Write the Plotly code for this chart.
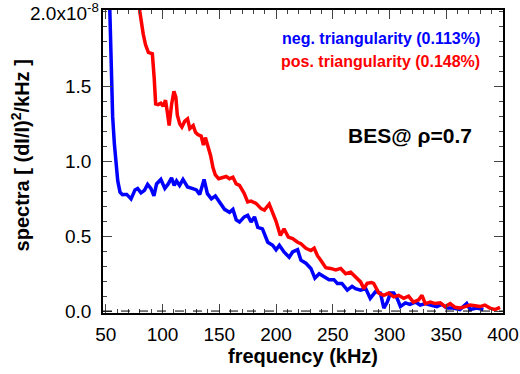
import plotly.graph_objects as go

# frequency (kHz) and spectra (units of 1e-8 (dI/I)^2/kHz)
neg_freq = [52.5, 54, 55, 56, 57.5, 59, 60.5, 62.5, 64.6, 66.5, 68.4, 70.3, 72.2, 74, 75.7, 78, 81, 84,
            86.8, 89.7, 92.4, 94.7, 98.5, 102, 105, 107.9, 110.2, 112.3, 115, 118, 122, 126, 129.8,
            132.7, 136.6, 139.5, 143, 146.5, 150.3, 154.6, 159, 162, 164.9, 167.8, 172, 175, 178,
            181, 183.9, 188, 192.7, 197, 200, 202.9, 207, 211.6, 214.6, 219, 221.9, 226.3, 230.7,
            234.2, 238, 242.3, 246.7, 251, 254, 258, 262.8, 267, 270, 274.5, 279, 283, 287.7, 292,
            295, 298, 300.8, 303.7, 306.7, 309.6, 314, 318, 322.8, 327, 331.5, 336, 341.7, 346,
            350.5, 356, 362, 368, 371, 377, 382.7]
neg_spec = [2.3, 1.85, 1.55, 1.3, 1.12, 1.0, 0.87, 0.795, 0.778, 0.78, 0.78, 0.765, 0.75, 0.78, 0.81,
            0.82, 0.79, 0.807, 0.847, 0.82, 0.77, 0.85, 0.88, 0.82, 0.85, 0.89, 0.84, 0.87, 0.84,
            0.88, 0.83, 0.82, 0.81, 0.78, 0.88, 0.785, 0.75, 0.77, 0.73, 0.68, 0.66, 0.68, 0.61,
            0.595, 0.63, 0.64, 0.595, 0.63, 0.56, 0.55, 0.46, 0.44, 0.41, 0.44, 0.395, 0.36, 0.395,
            0.41, 0.34, 0.32, 0.285, 0.22, 0.25, 0.23, 0.21, 0.21, 0.185, 0.185, 0.14, 0.165, 0.15,
            0.14, 0.15, 0.085, 0.13, 0.12, 0.02, 0.06, 0.12, 0.12, 0.085, 0.03, 0.055, 0.045, 0.06,
            0.04, 0.05, 0.04, 0.03, 0.045, 0.02, 0.02, 0.01, 0.05, 0.01, 0.02, 0.01]

pos_freq = [79, 80, 83, 85, 87.5, 91, 92.6, 93.9, 96, 98.5, 100.5, 102.6, 104.4, 105.8, 108, 110,
            111.7, 113, 115.2, 117, 119.6, 122, 124, 127, 129, 131, 134, 136, 137.7, 140, 142.3,
            144.4, 146.5, 149.4, 153, 156, 159, 162, 164.9, 167.8, 172, 175, 178, 182.4, 186.8,
            189.7, 194, 197, 200, 203.8, 207, 210.8, 214.6, 219, 221.9, 226.3, 230.7, 233.6, 236.5,
            239.4, 243.8, 248, 252.6, 257, 261.4, 265.8, 270, 274.5, 277.4, 280.3, 284, 286, 290.6,
            295, 299.3, 303.7, 308, 312.5, 316.8, 321, 325.7, 328.6, 331.5, 336, 340.3, 344.7, 349,
            353.5, 357.8, 362, 366.6, 371, 375.4, 379.8, 384, 388.5, 393, 397.4]
pos_spec = [2.1, 2.0, 1.85, 1.78, 1.73, 1.72, 1.56, 1.385, 1.38, 1.39, 1.37, 1.41, 1.32, 1.24, 1.385,
            1.47, 1.43, 1.31, 1.25, 1.23, 1.27, 1.285, 1.22, 1.24, 1.195, 1.18, 1.17, 1.11, 1.16,
            1.1, 1.04, 0.96, 0.91, 0.885, 0.895, 0.9, 0.885, 0.895, 0.85, 0.84, 0.785, 0.73, 0.735,
            0.72, 0.685, 0.675, 0.715, 0.66, 0.6, 0.505, 0.55, 0.495, 0.485, 0.46, 0.45, 0.42, 0.405,
            0.42, 0.37, 0.34, 0.29, 0.285, 0.275, 0.285, 0.25, 0.26, 0.23, 0.195, 0.15, 0.185, 0.19,
            0.185, 0.12, 0.105, 0.12, 0.095, 0.105, 0.085, 0.1, 0.06, 0.075, 0.105, 0.05, 0.06, 0.05,
            0.055, 0.03, 0.05, 0.025, 0.02, 0.03, 0.04, 0.035, 0.03, 0.04, 0.02, 0.01, 0.025]

x_ticks = [50, 100, 150, 200, 250, 300, 350, 400]
y_ticks = [0.0, 0.5, 1.0, 1.5]
y_ticktext = ["0.0", "0.5", "1.0", "1.5"]
y_top_label = "2.0x10<sup>-8</sup>"

FONT = "Liberation Sans, Arial, Helvetica, sans-serif"

fig = go.Figure()
fig.add_trace(go.Scatter(x=neg_freq, y=neg_spec, mode="lines",
                         line=dict(color="#0000ff", width=3.5), showlegend=False))
fig.add_trace(go.Scatter(x=pos_freq, y=pos_spec, mode="lines",
                         line=dict(color="#ff0000", width=3.5), showlegend=False))

fig.add_shape(type="line", xref="paper", x0=0, x1=1, yref="y", y0=0, y1=0,
              line=dict(color="black", width=1, dash="dash"))

fig.update_layout(
    width=520, height=374,
    margin=dict(l=103, r=17, t=10, b=61, autoexpand=False),
    paper_bgcolor="white", plot_bgcolor="white",
    font=dict(family=FONT, size=19, color="black"),
    xaxis=dict(range=[47.5, 400], tickvals=x_ticks, ticks="inside", ticklen=9, tickwidth=1,
               showline=True, linecolor="black", linewidth=1.5, mirror="allticks",
               showgrid=False, zeroline=False, ticklabelstandoff=3, automargin=False,
               minor=dict(dtick=10, ticks="inside", ticklen=4, tickwidth=1, showgrid=False)),
    yaxis=dict(range=[-0.013, 2.013], tickvals=y_ticks, ticktext=y_ticktext, ticks="inside",
               ticklen=9, tickwidth=1, showline=True, linecolor="black", linewidth=1.5,
               mirror="allticks", showgrid=False, zeroline=False, ticklabelstandoff=6,
               automargin=False,
               minor=dict(dtick=0.1, ticks="inside", ticklen=4, tickwidth=1, showgrid=False)),
)

ann = [
    dict(text=y_top_label, xref="paper", x=0, xshift=-2, xanchor="right",
         yref="y", y=2.0, yanchor="middle", showarrow=False, font=dict(size=19)),
    dict(text="<b>frequency (kHz)</b>", xref="paper", x=0.5, yref="paper", y=-0.142,
         yanchor="middle", showarrow=False, font=dict(size=20)),
    dict(text="<b>spectra [ (dI/I)<sup>2</sup>/kHz ]</b>", xref="paper", x=0, xshift=-83,
         xanchor="center", yref="paper", y=0.52, yanchor="middle", textangle=-90,
         showarrow=False, font=dict(size=20)),
    dict(text="<b>neg. triangularity (0.113%)</b>", xref="paper", x=0, xshift=379,
         xanchor="right", yref="paper", y=(313 - 38) / 303, yanchor="middle",
         showarrow=False, font=dict(size=16, color="#0000ff")),
    dict(text="<b>pos. triangularity (0.148%)</b>", xref="paper", x=0, xshift=379,
         xanchor="right", yref="paper", y=(313 - 61) / 303, yanchor="middle",
         showarrow=False, font=dict(size=16, color="#ff0000")),
    dict(text="<b>BES@ ρ=0.7</b>", xref="paper", x=0, xshift=371, xanchor="right",
         yref="paper", y=(313 - 135) / 303, yanchor="middle", showarrow=False,
         font=dict(size=21, color="black")),
]
fig.update_layout(annotations=ann)

fig.write_html("out.html")
